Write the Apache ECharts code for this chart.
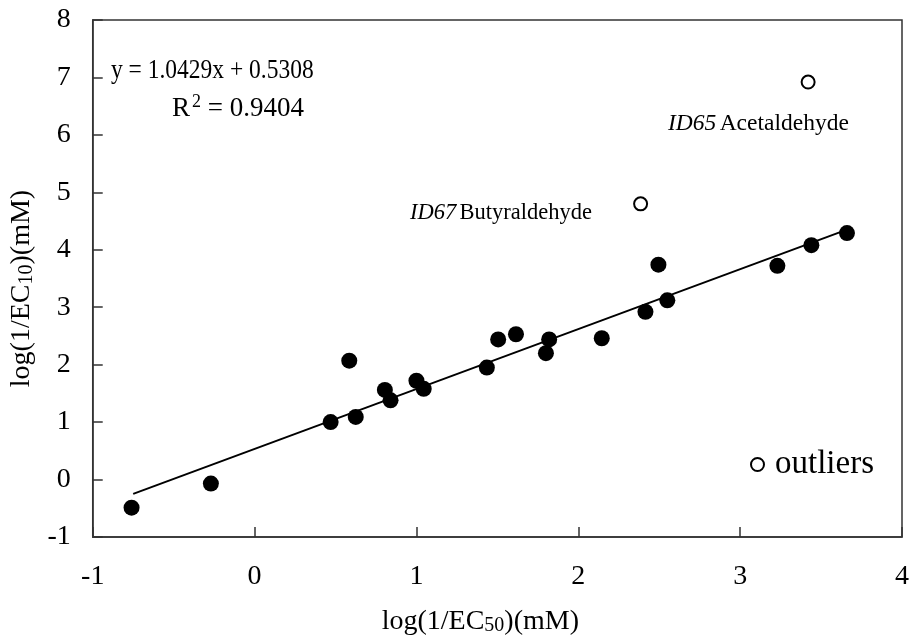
<!DOCTYPE html>
<html>
<head>
<meta charset="utf-8">
<script src="https://cdn.jsdelivr.net/npm/echarts@6/dist/echarts.min.js"></script>
<style>html,body{margin:0;padding:0;background:#fff}#c{width:914px;height:641px}</style>
</head>
<body>
<div id="c"></div>
<script>
// Fitted compounds: log(1/EC50) vs log(1/EC10)
const fitX = [-0.76, -0.27, 0.47, 0.625, 0.585, 0.805, 0.84, 1.0, 1.045, 1.435, 1.505, 1.615, 1.80, 1.82, 2.145, 2.415, 2.495, 2.55, 3.23, 3.44, 3.66];
const fitY = [-0.49, -0.07, 1.00, 1.09, 2.07, 1.56, 1.38, 1.72, 1.58, 1.95, 2.44, 2.53, 2.20, 2.44, 2.46, 2.92, 3.74, 3.12, 3.72, 4.08, 4.29];
// Outliers
const outX = [2.385, 3.42];
const outY = [4.80, 6.92];
const outNames = ['ID67', 'ID65'];
// Trend line end points
const trendX = [-0.75, 3.66];
const trendY = [-0.25, 4.35];
// Axis ranges
const xMin = -1, xMax = 4, yMin = -1, yMax = 8;

const font = '"Liberation Serif", "Times New Roman", serif';
const chart = echarts.init(document.getElementById('c'));
const axisLine = {show: true, onZero: false, lineStyle: {color: '#333', width: 1.5}};
const tick = {show: true, inside: true, length: 10, lineStyle: {color: '#333', width: 1.5}};
chart.setOption({
  animation: false,
  grid: {left: 88, right: 12, top: 20, bottom: 101, show: true, borderColor: '#333', borderWidth: 1.5},
  xAxis: {
    type: 'value', min: xMin, max: xMax, interval: 1,
    axisLine: axisLine, axisTick: tick, splitLine: {show: false},
    axisLabel: {margin: 26, fontFamily: font, fontSize: 28, color: '#000'},
    name: '{a|log(1/EC}{s|50}{a|)(mM)}',
    nameLocation: 'middle', nameGap: 70,
    nameTextStyle: {padding: [0, 34, 0, 0], rich: {a: {fontFamily: font, fontSize: 28, color: '#000'}, s: {fontFamily: font, fontSize: 20, color: '#000', verticalAlign: 'bottom', padding: [9, 0, 0, 0]}}}
  },
  yAxis: {
    type: 'value', min: yMin, max: yMax, interval: 1,
    axisLine: axisLine, axisTick: tick, splitLine: {show: false},
    axisLabel: {margin: 22, fontFamily: font, fontSize: 28, color: '#000'},
    name: '{a|log(1/EC}{s|10}{a|)(mM)}',
    nameLocation: 'middle', nameGap: 52,
    nameTextStyle: {padding: [0, 20, 0, 0], rich: {a: {fontFamily: font, fontSize: 28, color: '#000'}, s: {fontFamily: font, fontSize: 20, color: '#000', verticalAlign: 'bottom', padding: [9, 0, 0, 0]}}}
  },
  legend: {
    show: true, data: ['outliers'], left: 750, top: 448, padding: 0, icon: 'circle', itemWidth: 13, itemHeight: 13, itemGap: 10,
    textStyle: {fontFamily: font, fontSize: 33, color: '#000', padding: [0, 0, 0, 6]}
  },
  graphic: [
    {type: 'text', left: 111, top: 57, style: {text: 'y = 1.0429x + 0.5308', font: '27px ' + font, fill: '#000'}, scaleX: 0.87},
    {type: 'text', left: 172, top: 93, style: {
      text: '{a|R}{s|2}{a| = 0.9404}',
      rich: {a: {fontFamily: font, fontSize: 27, fill: '#000'}, s: {fontFamily: font, fontSize: 18, fill: '#000', verticalAlign: 'top', padding: [0, 0, 14, 2]}}
    }},
    {type: 'text', left: 410, top: 202, style: {
      text: '{i|ID67} {n|Butyraldehyde}',
      rich: {i: {fontFamily: font, fontStyle: 'italic', fontSize: 22.5, fill: '#000'}, n: {fontFamily: font, fontSize: 22.5, fill: '#000'}}
    }},
    {type: 'text', left: 668, top: 112, style: {
      text: '{i|ID65} {n|Acetaldehyde}',
      rich: {i: {fontFamily: font, fontStyle: 'italic', fontSize: 23.5, fill: '#000'}, n: {fontFamily: font, fontSize: 23.5, fill: '#000'}}
    }}
  ],
  series: [
    {
      name: 'trend', type: 'line', data: trendX.map((x, i) => [x, trendY[i]]),
      symbol: 'none', lineStyle: {color: '#000', width: 2}, z: 1
    },
    {
      name: 'fitted', type: 'scatter', data: fitX.map((x, i) => [x, fitY[i]]),
      symbol: 'circle', symbolSize: 16, itemStyle: {color: '#000', opacity: 1}, z: 3
    },
    {
      name: 'outliers', type: 'scatter', data: outX.map((x, i) => [x, outY[i]]),
      symbol: 'circle', symbolSize: 13, itemStyle: {color: '#fff', borderColor: '#000', borderWidth: 2, opacity: 1}, z: 3
    }
  ]
});
</script>
</body>
</html>
